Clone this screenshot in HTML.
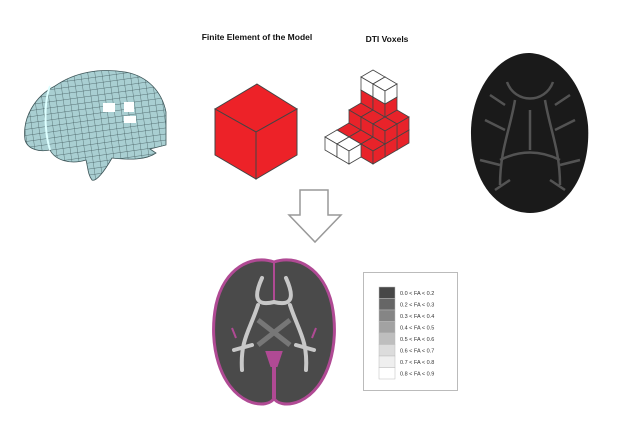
<!DOCTYPE html>
<html><head><style>
html,body{margin:0;padding:0;background:#fff;}
svg{display:block;}
</style></head><body>
<svg width="643" height="444" viewBox="0 0 643 444" xmlns="http://www.w3.org/2000/svg" font-family="Liberation Sans, Arial, sans-serif">
<defs>
<pattern id="grid" width="7" height="6" patternUnits="userSpaceOnUse" patternTransform="rotate(-8)">
<rect width="7" height="6" fill="#a9cfd2"/>
<path d="M7 0V6M0 6H7" stroke="#3d5558" stroke-width="0.7" fill="none"/>
</pattern>
<g id="rc">
<path d="M0 0L12 7L0 14L-12 7Z" fill="#e8232a" stroke="#444" stroke-width="0.8"/>
<path d="M-12 7L0 14L0 27L-12 20Z" fill="#e8232a" stroke="#444" stroke-width="0.8"/>
<path d="M0 14L12 7L12 20L0 27Z" fill="#e8232a" stroke="#444" stroke-width="0.8"/>
</g>
<g id="wc">
<path d="M0 0L12 7L0 14L-12 7Z" fill="#fff" stroke="#444" stroke-width="0.8"/>
<path d="M-12 7L0 14L0 27L-12 20Z" fill="#fff" stroke="#444" stroke-width="0.8"/>
<path d="M0 14L12 7L12 20L0 27Z" fill="#fff" stroke="#444" stroke-width="0.8"/>
</g>
</defs>

<!-- left brain mesh -->
<path d="M25 140 C22 118 35 96 55 86 C75 72 100 68 125 72 C148 76 162 92 166 112 L166 145 L150 149 L156 153 C146 160 130 160 112 158 C104 172 96 182 92 180 C88 175 88 168 86 160 C70 165 55 160 50 150 C40 152 28 150 25 140Z" fill="url(#grid)" stroke="#3d5558" stroke-width="0.8"/>
<path d="M50 86 C44 102 44 130 50 150" stroke="#dff" stroke-width="2" fill="none"/>
<rect x="103" y="103" width="12" height="9" fill="#fff"/><rect x="124" y="102" width="10" height="10" fill="#fff"/><rect x="124" y="116" width="12" height="7" fill="#fff"/>

<!-- titles -->
<text x="257" y="40" font-size="8.5" font-weight="bold" text-anchor="middle" fill="#111">Finite Element of the Model</text>
<text x="387" y="42" font-size="8.5" font-weight="bold" text-anchor="middle" fill="#111">DTI Voxels</text>

<!-- big cube -->
<path d="M257 84L297 109L256 132L215 109Z" fill="#ed2228" stroke="#444" stroke-width="1"/>
<path d="M215 109L256 132L256 179L215 155Z" fill="#ed2228" stroke="#444" stroke-width="1"/>
<path d="M256 132L297 109L297 155L256 179Z" fill="#ed2228" stroke="#444" stroke-width="1"/>

<!-- voxels -->
<use href="#rc" x="373" y="109"/>
<use href="#rc" x="385" y="116"/><use href="#rc" x="361" y="116"/><use href="#rc" x="373" y="96"/>
<use href="#rc" x="397" y="123"/><use href="#rc" x="373" y="123"/><use href="#rc" x="349" y="123"/><use href="#rc" x="385" y="103"/><use href="#rc" x="361" y="103"/><use href="#rc" x="373" y="83"/>
<use href="#rc" x="385" y="130"/><use href="#rc" x="361" y="130"/><use href="#wc" x="337" y="130"/><use href="#rc" x="397" y="110"/><use href="#rc" x="373" y="110"/><use href="#rc" x="385" y="90"/><use href="#wc" x="373" y="70"/>
<use href="#rc" x="373" y="137"/><use href="#wc" x="349" y="137"/><use href="#rc" x="385" y="117"/><use href="#wc" x="385" y="77"/>

<!-- right DTI brain -->
<path d="M530 53 C560 55 584 85 588 125 C591 170 570 212 530 213 C492 212 470 175 471 130 C472 88 500 52 530 53Z" fill="#1a1a1a"/>
<g stroke="#5e5e5e" stroke-width="2.5" fill="none" opacity="0.85">
<path d="M507 82 C515 104 545 104 553 82"/>
<path d="M515 100 C510 130 500 150 500 185"/>
<path d="M545 100 C550 130 560 150 560 185"/>
<path d="M500 160 C520 150 540 150 560 160"/>
<path d="M485 120 L505 130 M575 120 L555 130 M480 160 L500 165 M580 160 L560 165"/>
<path d="M490 95 L505 105 M570 95 L555 105 M495 190 L510 180 M565 190 L550 180 M530 110 V150"/>
</g>

<!-- arrow -->
<path d="M300 190H328V215H341L315 242L289 215H300Z" fill="#fff" stroke="#999" stroke-width="1.5"/>

<!-- bottom brain -->
<path d="M274 262 C252 254 224 268 216 305 C208 345 220 388 248 401 C262 407 272 403 274 398 C276 403 286 407 300 401 C328 388 340 345 332 305 C324 268 296 254 274 262Z" fill="#4a4a4a" stroke="#b04a94" stroke-width="3"/>
<path d="M274 262 V300" stroke="#b04a94" stroke-width="2"/>
<path d="M274 398 V365 M268 353 H280 L276 365 H272Z" stroke="#b04a94" stroke-width="4" fill="#b04a94"/>
<path d="M232 328 L236 338 M316 328 L312 338" stroke="#b04a94" stroke-width="2"/>
<g stroke="#c8c8c8" stroke-width="4" fill="none" stroke-linecap="round">
<path d="M262 278 C252 300 258 306 274 302 C290 306 296 300 286 278"/>
<path d="M258 305 C250 330 240 340 242 370"/>
<path d="M290 305 C298 330 308 340 306 370"/>
<path d="M252 345 L234 350 M296 345 L314 350"/>
</g>
<g stroke="#777" stroke-width="5" fill="none"><path d="M258 320 L290 345 M290 320 L258 345"/></g>

<!-- legend -->
<rect x="363.5" y="272.5" width="94" height="118" fill="#fff" stroke="#bbb"/>
<g stroke="#bbb" stroke-width="0.5">
<rect x="379" y="287" width="16" height="11.5" fill="#474747"/>
<rect x="379" y="298.5" width="16" height="11.5" fill="#666"/>
<rect x="379" y="310" width="16" height="11.5" fill="#858585"/>
<rect x="379" y="321.5" width="16" height="11.5" fill="#a2a2a2"/>
<rect x="379" y="333" width="16" height="11.5" fill="#bebebe"/>
<rect x="379" y="344.5" width="16" height="11.5" fill="#dcdcdc"/>
<rect x="379" y="356" width="16" height="11.5" fill="#efefef"/>
<rect x="379" y="367.5" width="16" height="11.5" fill="#fff"/>
</g>
<g font-size="5.5" fill="#333">
<text x="400" y="295">0.0 &lt; FA &lt; 0.2</text>
<text x="400" y="306.5">0.2 &lt; FA &lt; 0.3</text>
<text x="400" y="318">0.3 &lt; FA &lt; 0.4</text>
<text x="400" y="329.5">0.4 &lt; FA &lt; 0.5</text>
<text x="400" y="341">0.5 &lt; FA &lt; 0.6</text>
<text x="400" y="352.5">0.6 &lt; FA &lt; 0.7</text>
<text x="400" y="364">0.7 &lt; FA &lt; 0.8</text>
<text x="400" y="375.5">0.8 &lt; FA &lt; 0.9</text>
</g>
</svg>
</body></html>
